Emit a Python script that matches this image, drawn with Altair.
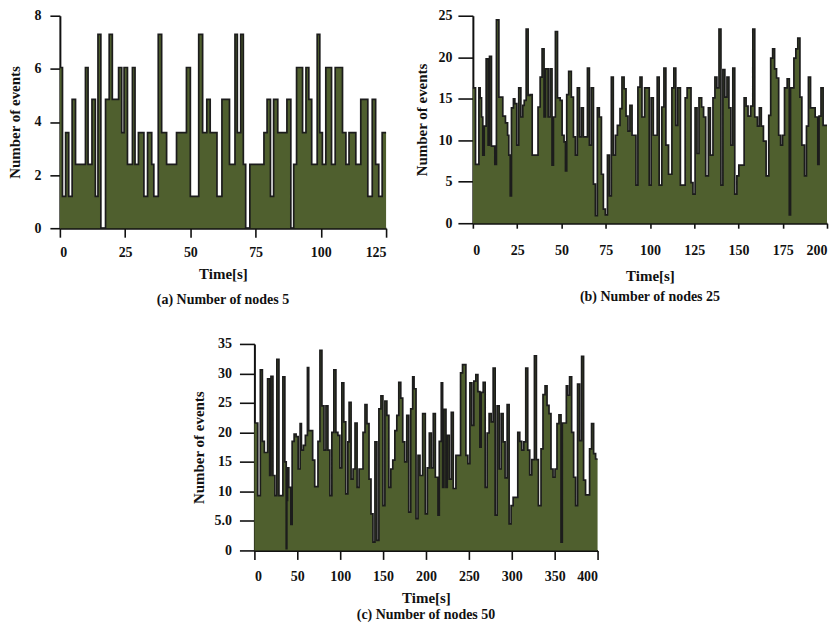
import altair as alt
import pandas as pd

FILL = "#4f5f2e"
EDGE = "#1c1c1c"
FONT = "Liberation Serif"

# ---------------- Panel (a): number of nodes 5 ----------------
a_starts = [0, 1.0, 2.2, 3.4, 4.7, 6.0, 9.8, 10.8, 12.3, 13.6, 14.6, 15.7, 17.5, 18.9,
            20.1, 22.5, 23.7, 24.6, 25.9, 27.8, 28.8, 30.1, 32.2, 33.6, 35.2, 36.0, 37.7,
            39.0, 40.9, 44.7, 48.5, 50.0, 53.2, 54.7, 56.3, 57.6, 60.2, 62.1, 65.0, 67.1,
            68.0, 69.3, 70.3, 71.2, 72.8, 78.2, 79.4, 80.7, 81.9, 83.5, 87.0, 88.5, 89.6,
            90.7, 93.0, 94.3, 95.4, 96.5, 98.6, 99.6, 100.6, 101.9, 104.1, 105.5, 108.3,
            109.6, 110.8, 113.4, 115.3, 118.0, 119.7, 121.0, 122.2, 123.5]
a_values = [6.05, 1.2, 3.6, 1.2, 4.85, 2.4, 6.05, 2.4, 4.85, 1.2, 7.3, 0, 4.85, 7.3,
            4.85, 6.05, 3.6, 6.05, 2.4, 6.05, 2.4, 3.6, 1.2, 3.6, 2.4, 1.2, 7.3,
            3.6, 2.4, 3.6, 6.05, 1.2, 7.3, 3.6, 4.85, 3.6, 1.2, 4.85, 2.4, 7.3,
            3.6, 7.3, 2.4, 0, 2.4, 3.6, 4.85, 1.2, 4.85, 3.6, 4.85, 0, 2.4,
            6.05, 3.6, 6.05, 4.85, 2.4, 7.3, 3.6, 2.4, 6.05, 2.4, 6.05, 3.6,
            2.4, 3.6, 2.4, 4.85, 1.2, 4.85, 2.4, 1.2, 3.6]
a_end = 125

# ---------------- Panel (b): number of nodes 25 ----------------
b_starts = [0, 1.5, 3.4, 4.1, 4.9, 5.6, 6.4, 7.5, 8.6, 9.4, 10.5, 12.4, 13.3, 14.7,
            16.9, 18.4, 19.6, 20.3, 21.1, 21.8, 22.9, 23.7, 24.8, 25.9, 27.1, 28.2,
            29.0, 30.1, 31.2, 32.3, 33.5, 36.8, 38.0, 39.1, 40.2, 41.0, 42.5, 43.6,
            44.7, 45.5, 46.6, 47.8, 49.3, 50.4, 51.5, 52.3, 53.0, 54.1, 55.6, 56.8,
            57.9, 59.0, 60.2, 61.3, 62.4, 64.7, 65.8, 66.9, 68.1, 69.2, 70.3, 71.4,
            72.6, 73.7, 74.8, 76.0, 77.1, 78.2, 79.3, 80.5, 81.6, 83.1, 84.2, 85.4,
            86.5, 87.6, 88.7, 89.9, 92.1, 93.2, 94.4, 95.5, 97.0,
            99.6, 100.7, 101.9, 104.1, 105.2, 106.7, 107.9, 109.0, 110.5, 112.4, 113.5,
            114.6, 115.7, 117.2, 119.9, 121.0, 123.2, 124.3, 125.5, 126.6, 127.7, 129.2,
            130.3, 131.5, 133.0, 134.1, 135.6, 136.7, 137.8, 139.0, 140.1, 141.2, 142.3,
            143.5, 144.6, 145.7, 146.8, 147.9, 149.1, 150.2, 153.2, 154.3, 155.4, 156.9,
            158.1, 159.2, 160.7, 161.8, 162.9, 164.1, 165.6, 167.1, 168.2, 169.3, 170.4,
            171.5, 172.7, 173.8, 174.9, 176.0, 177.5, 178.7, 179.4, 181.3, 182.4, 183.5,
            184.7, 185.8, 187.3, 188.4, 189.5, 190.7, 193.3, 194.8, 195.5, 196.6, 197.8]
b_values = [16.3, 7.1, 16.3, 15.1, 12.8, 8.2, 11.7, 19.8, 9.4, 20.1, 9.3, 7.1, 24.5, 15.2,
            12.9, 12.1, 10.6, 8.2, 3.3, 13.9, 15.0, 14.4, 9.4, 16.3, 12.8, 14.2,
            14.8, 23.4, 15.4, 15.5, 8.2, 14.0, 17.6, 21.0, 12.8, 18.6, 12.8, 18.6,
            7.0, 12.8, 23.1, 15.1, 14.8, 10.6, 9.8, 6.3, 15.5, 18.3, 15.2, 10.4,
            8.2, 16.3, 10.4, 13.9, 10.4, 18.7, 9.4, 16.3, 4.7, 0.9, 13.9, 12.8,
            5.9, 1.7, 1.0, 8.2, 3.3, 17.6, 8.2, 10.6, 11.8, 13.8, 17.6, 16.2,
            12.9, 11.1, 14.2, 10.6, 4.6, 16.4, 17.6, 12.8, 16.3,
            4.6, 15.1, 10.6, 17.6, 4.6, 14.0, 18.7, 9.4, 5.9, 16.3, 18.7,
            11.8, 16.3, 4.6, 15.1, 16.3, 4.9, 3.5, 13.9, 8.4, 15.1, 14.0,
            12.8, 5.7, 13.9, 8.2, 15.1, 17.6, 16.3, 23.4, 4.6, 18.5, 15.2,
            17.6, 13.9, 9.4, 18.7, 3.5, 5.7, 7.0, 15.1, 14.1, 12.9, 14.1,
            23.4, 12.8, 11.7, 13.9, 11.7, 9.9, 5.7, 13.0, 19.9, 21.0, 18.6,
            17.5, 10.6, 9.4, 10.6, 16.3, 17.4, 1.0, 16.3, 19.9, 21.0, 22.3,
            15.2, 9.4, 5.7, 11.7, 17.6, 13.9, 12.8, 7.1, 12.9, 16.3, 11.8]
b_end = 200

# ---------------- Panel (c): number of nodes 50 ----------------
c_starts = [0, 3.9, 6.9, 9.3, 11.6, 15.4, 17.8, 19.3, 21.6, 23.9, 26.2, 28.6, 33.2, 35.5,
            37.1, 37.8, 38.6, 40.1, 42.5, 44.0, 46.3, 48.6, 51.0, 53.3, 54.8, 57.1, 59.4,
            61.8, 63.3, 67.9, 70.3, 74.1, 76.4, 78.7, 81.1, 83.4, 85.7, 88.0, 90.3, 92.6,
            95.0, 97.3, 99.6, 101.9, 104.2, 106.5, 108.9, 110.4, 112.7, 115.0, 117.3,
            119.7, 122.0, 126.6, 128.9, 131.2, 133.6, 135.9, 138.2, 140.5, 142.8, 145.1,
            147.5, 149.8, 152.1, 154.4, 156.7, 159.0, 161.3, 163.7, 166.0, 168.3, 170.6,
            172.9, 175.2, 177.6, 179.9, 182.2, 184.5, 186.1, 188.4, 190.7, 193.0, 196.1,
            199.2, 201.6, 203.9, 206.2, 208.5, 210.9, 214.0, 215.5, 217.8, 219.4, 220.9,
            223.3, 224.8, 227.1, 229.5, 231.8, 234.9, 240.3, 242.6, 246.5, 248.8, 251.2,
            253.5, 255.8, 258.1, 260.5, 262.8, 264.3, 266.7, 269.0, 271.3, 273.6, 276.0,
            278.3, 280.6, 282.9, 285.3, 287.6, 289.9, 292.2, 294.6, 296.9, 299.2, 301.6,
            307.0, 309.3, 311.6, 314.0, 316.3, 318.6, 320.9, 323.3, 326.4, 328.7, 331.0,
            334.1, 336.4, 338.8, 341.1, 343.4, 345.7, 348.1, 350.4, 352.7, 355.0, 357.4,
            358.9, 363.6, 365.1, 367.4, 369.8, 372.1, 374.4, 376.7, 379.1, 381.4, 383.7,
            386.0, 390.7, 393.0, 395.4, 397.7]
c_values = [21.6, 9.3, 30.6, 18.5, 16.6, 29.1, 12.7, 29.5, 12.7, 9.3, 32.4, 9.3, 29.4, 15.0,
            0.3, 8.5, 14.0, 10.7, 4.4, 18.5, 19.7, 19.3, 13.8, 21.5, 17.0, 17.8, 19.5,
            31.0, 20.3, 15.3, 10.8, 18.5, 33.9, 24.5, 17.0, 24.5, 17.0, 9.3, 20.0, 30.6,
            20.0, 19.5, 14.0, 28.4, 21.8, 9.6, 18.4, 25.1, 12.1, 13.8, 21.6,
            10.7, 13.8, 20.0, 24.7, 21.5, 12.1, 6.2, 1.4, 18.4, 1.7, 24.0,
            26.2, 7.6, 25.3, 22.9, 10.7, 13.8, 15.3, 20.3, 22.9, 28.5, 25.8,
            18.4, 15.0, 22.9, 6.5, 24.0, 29.4, 27.4, 5.4, 16.1, 12.7, 23.2,
            6.2, 14.0, 19.9, 14.0, 23.2, 12.4, 6.0, 18.5, 28.4, 10.7, 23.9,
            10.7, 19.5, 12.1, 23.4, 10.5, 16.1, 30.1, 31.5, 16.1, 14.7, 28.4,
            21.2, 28.7, 29.8, 26.9, 17.5, 26.8, 28.5, 10.7, 19.9, 23.2, 21.8,
            30.9, 6.0, 24.5, 13.8, 23.2, 18.4, 12.3, 24.7, 4.5, 7.6, 9.0,
            20.0, 18.5, 17.0, 18.4, 30.9, 17.0, 12.8, 15.4, 33.0, 15.4, 7.6,
            17.2, 26.4, 27.9, 24.6, 23.2, 13.8, 12.4, 13.8, 21.5, 23.0, 1.4,
            21.6, 27.9, 26.3, 29.4, 20.0, 12.4, 7.6, 28.2, 18.6, 32.9, 11.9,
            9.4, 17.2, 21.5, 16.4, 15.5]
c_end = 400


def frame(starts, values, end):
    xs = list(starts) + [end]
    ys = list(values) + [values[-1]]
    return pd.DataFrame({"t": xs, "n": ys})


def panel(starts, values, end, ymax, yticks, xticks, width, height, caption,
          ytick_size, xtick_size, ylab_pad, xlab_pad, xtitle_pad, cap_offset,
          ytitle_pad, label_expr=None):
    yaxis_kw = dict(values=yticks, tickSize=ytick_size, labelPadding=ylab_pad,
                    title="Number of events", titlePadding=ytitle_pad)
    if label_expr:
        yaxis_kw["labelExpr"] = label_expr
    return (
        alt.Chart(frame(starts, values, end))
        .mark_area(interpolate="step-after", color=FILL, opacity=1,
                   line=alt.OverlayMarkDef(color=EDGE, strokeWidth=1.7))
        .encode(
            x=alt.X("t:Q", scale=alt.Scale(domain=[0, end], nice=False, zero=True),
                    axis=alt.Axis(values=xticks, tickSize=xtick_size,
                                  labelPadding=xlab_pad, title="Time[s]",
                                  titlePadding=xtitle_pad)),
            y=alt.Y("n:Q", scale=alt.Scale(domain=[0, ymax], nice=False),
                    axis=alt.Axis(**yaxis_kw)),
        )
        .properties(width=width, height=height,
                    title=alt.TitleParams(caption, orient="bottom", offset=cap_offset,
                                          font=FONT, fontSize=14, fontWeight="bold",
                                          color="#111"))
    )


pa = panel(a_starts, a_values, a_end, 8, [0, 2, 4, 6, 8], [0, 25, 50, 75, 100, 125],
           327, 213, "(a) Number of nodes 5", 10, 9, 9, 8, 7, 12, 11)
pb = panel(b_starts, b_values, b_end, 25, [0, 5, 10, 15, 20, 25],
           [0, 25, 50, 75, 100, 125, 150, 175, 200],
           355, 208, "(b) Number of nodes 25", 15, 5, 6, 15, 11, 7, 8)
pc = panel(c_starts, c_values, c_end, 35, [0, 5, 10, 15, 20, 25, 30, 35],
           [0, 50, 100, 150, 200, 250, 300, 350, 400],
           344, 207, "(c) Number of nodes 50", 15, 9, 8, 10, 7, 3, 8,
           label_expr="datum.value == 5 ? '5.0' : datum.label")

spacer = (
    alt.Chart(pd.DataFrame({"t": [0]}))
    .mark_point(opacity=0)
    .encode(x=alt.value(0), y=alt.value(0))
    .properties(width=131, height=10)
)

top = alt.hconcat(pa, pb, spacing=25)
bottom = alt.hconcat(spacer, pc, spacing=0)

chart = (
    alt.vconcat(top, bottom, spacing=30)
    .properties(padding=0)
    .configure_view(stroke=None)
    .configure_axis(
        labelFont=FONT, labelFontSize=14, labelFontWeight="bold", labelColor="#111",
        titleFont=FONT, titleFontSize=15, titleFontWeight="bold", titleColor="#111",
        domainColor="#111", domainWidth=2, tickColor="#111", tickWidth=1.6,
        grid=False,
    )
)

chart.save("out.html", embed_options={"renderer": "svg", "actions": False})
